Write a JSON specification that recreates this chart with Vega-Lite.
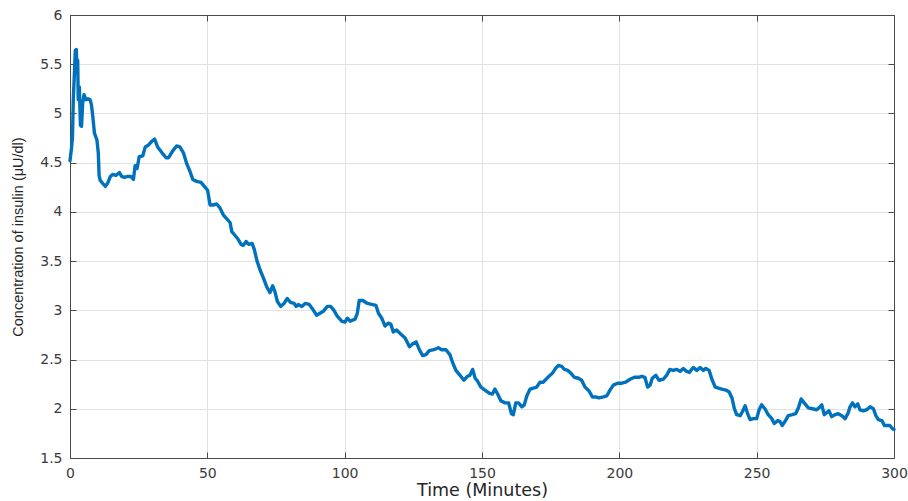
{
  "$schema": "https://vega.github.io/schema/vega-lite/v6.json",
  "width": 824,
  "height": 443,
  "autosize": {"type": "none"},
  "padding": {"left": 70, "top": 15, "right": 14, "bottom": 43},
  "background": "white",
  "config": {
    "view": {"stroke": null},
    "axis": {
      "domainColor": "#4a4a4a",
      "domainWidth": 1,
      "tickColor": "#4a4a4a",
      "tickSize": -6,
      "tickWidth": 1,
      "gridColor": "#e2e2e2",
      "gridWidth": 1,
      "labelFont": "DejaVu Sans",
      "labelFontSize": 14,
      "labelColor": "#3a3a3a",
      "labelFlush": false,
      "labelOverlap": false,
      "labelBound": false,
      "titleFontWeight": "normal",
      "titleColor": "#262626"
    }
  },
  "data": {
    "values": [
      {"time": 0, "insulin": 4.52}, {"time": 0.6, "insulin": 4.66}, {"time": 0.9, "insulin": 4.76},
      {"time": 1.2, "insulin": 5.14}, {"time": 1.7, "insulin": 5.47}, {"time": 1.94, "insulin": 5.64},
      {"time": 2.3, "insulin": 5.65}, {"time": 2.55, "insulin": 5.41}, {"time": 2.8, "insulin": 5.54},
      {"time": 3.0, "insulin": 5.14}, {"time": 3.4, "insulin": 5.27}, {"time": 3.8, "insulin": 4.88},
      {"time": 4.2, "insulin": 4.87}, {"time": 4.6, "insulin": 5.10}, {"time": 5.1, "insulin": 5.19},
      {"time": 5.8, "insulin": 5.14}, {"time": 6.55, "insulin": 5.15}, {"time": 7.3, "insulin": 5.14},
      {"time": 7.8, "insulin": 5.09}, {"time": 8.3, "insulin": 4.97}, {"time": 8.9, "insulin": 4.80},
      {"time": 9.8, "insulin": 4.73}, {"time": 10.3, "insulin": 4.60}, {"time": 10.6, "insulin": 4.37},
      {"time": 11.0, "insulin": 4.32}, {"time": 11.9, "insulin": 4.29}, {"time": 12.9, "insulin": 4.26},
      {"time": 13.7, "insulin": 4.29}, {"time": 14.7, "insulin": 4.36}, {"time": 15.5, "insulin": 4.38},
      {"time": 16.7, "insulin": 4.37}, {"time": 18.0, "insulin": 4.40}, {"time": 18.8, "insulin": 4.36},
      {"time": 19.8, "insulin": 4.35}, {"time": 21.0, "insulin": 4.36}, {"time": 22.2, "insulin": 4.36},
      {"time": 23.1, "insulin": 4.33}, {"time": 23.7, "insulin": 4.47}, {"time": 24.4, "insulin": 4.44},
      {"time": 25.2, "insulin": 4.56}, {"time": 26.5, "insulin": 4.57}, {"time": 27.4, "insulin": 4.66},
      {"time": 28.6, "insulin": 4.68}, {"time": 29.9, "insulin": 4.72}, {"time": 30.8, "insulin": 4.74},
      {"time": 31.9, "insulin": 4.66}, {"time": 33.5, "insulin": 4.60}, {"time": 35.0, "insulin": 4.55},
      {"time": 35.9, "insulin": 4.55}, {"time": 37.4, "insulin": 4.62}, {"time": 38.8, "insulin": 4.67},
      {"time": 40.0, "insulin": 4.66}, {"time": 41.3, "insulin": 4.60}, {"time": 42.5, "insulin": 4.49},
      {"time": 43.7, "insulin": 4.41}, {"time": 44.7, "insulin": 4.33}, {"time": 46.1, "insulin": 4.31},
      {"time": 47.7, "insulin": 4.30}, {"time": 48.9, "insulin": 4.26}, {"time": 50.1, "insulin": 4.22},
      {"time": 51.0, "insulin": 4.07}, {"time": 52.0, "insulin": 4.07}, {"time": 53.4, "insulin": 4.08},
      {"time": 54.6, "insulin": 4.04}, {"time": 55.8, "insulin": 3.97}, {"time": 57.4, "insulin": 3.92},
      {"time": 58.3, "insulin": 3.89}, {"time": 58.9, "insulin": 3.80}, {"time": 59.8, "insulin": 3.77},
      {"time": 61.0, "insulin": 3.73}, {"time": 62.3, "insulin": 3.67}, {"time": 63.1, "insulin": 3.66},
      {"time": 64.1, "insulin": 3.70}, {"time": 65.1, "insulin": 3.67}, {"time": 66.3, "insulin": 3.68},
      {"time": 67.1, "insulin": 3.62}, {"time": 68.0, "insulin": 3.51}, {"time": 69.2, "insulin": 3.41},
      {"time": 70.4, "insulin": 3.33}, {"time": 71.6, "insulin": 3.24}, {"time": 72.8, "insulin": 3.18},
      {"time": 73.8, "insulin": 3.25}, {"time": 74.6, "insulin": 3.19}, {"time": 75.5, "insulin": 3.09},
      {"time": 76.7, "insulin": 3.04}, {"time": 77.9, "insulin": 3.07}, {"time": 79.1, "insulin": 3.12},
      {"time": 80.3, "insulin": 3.08}, {"time": 81.6, "insulin": 3.07}, {"time": 82.3, "insulin": 3.04},
      {"time": 83.1, "insulin": 3.06}, {"time": 84.4, "insulin": 3.04}, {"time": 85.6, "insulin": 3.07},
      {"time": 87.1, "insulin": 3.06}, {"time": 88.4, "insulin": 3.01}, {"time": 89.8, "insulin": 2.95},
      {"time": 91.0, "insulin": 2.97}, {"time": 92.2, "insulin": 2.99}, {"time": 93.7, "insulin": 3.04},
      {"time": 94.9, "insulin": 3.04}, {"time": 96.1, "insulin": 3.00}, {"time": 97.3, "insulin": 2.94},
      {"time": 98.9, "insulin": 2.89}, {"time": 100.1, "insulin": 2.88}, {"time": 101.0, "insulin": 2.92},
      {"time": 102.0, "insulin": 2.89}, {"time": 103.8, "insulin": 2.91}, {"time": 104.6, "insulin": 2.97},
      {"time": 105.3, "insulin": 3.10}, {"time": 106.6, "insulin": 3.10}, {"time": 108.3, "insulin": 3.07},
      {"time": 109.8, "insulin": 3.06}, {"time": 111.4, "insulin": 3.05}, {"time": 112.3, "insulin": 2.97},
      {"time": 113.5, "insulin": 2.92}, {"time": 114.7, "insulin": 2.84}, {"time": 115.9, "insulin": 2.87},
      {"time": 116.8, "insulin": 2.86}, {"time": 117.7, "insulin": 2.78}, {"time": 118.9, "insulin": 2.80},
      {"time": 120.4, "insulin": 2.76}, {"time": 122.0, "insulin": 2.72}, {"time": 123.6, "insulin": 2.63},
      {"time": 124.8, "insulin": 2.66}, {"time": 126.0, "insulin": 2.68}, {"time": 127.2, "insulin": 2.60},
      {"time": 128.4, "insulin": 2.54}, {"time": 129.6, "insulin": 2.55}, {"time": 130.8, "insulin": 2.59},
      {"time": 132.5, "insulin": 2.60}, {"time": 134.1, "insulin": 2.62}, {"time": 135.3, "insulin": 2.60},
      {"time": 136.9, "insulin": 2.60}, {"time": 138.3, "insulin": 2.55}, {"time": 139.3, "insulin": 2.47},
      {"time": 140.5, "insulin": 2.39}, {"time": 142.0, "insulin": 2.34}, {"time": 143.4, "insulin": 2.29},
      {"time": 144.7, "insulin": 2.33}, {"time": 145.6, "insulin": 2.34}, {"time": 146.6, "insulin": 2.40},
      {"time": 147.5, "insulin": 2.31}, {"time": 148.4, "insulin": 2.28}, {"time": 149.6, "insulin": 2.22},
      {"time": 151.1, "insulin": 2.19}, {"time": 152.6, "insulin": 2.16}, {"time": 153.8, "insulin": 2.15},
      {"time": 154.7, "insulin": 2.20}, {"time": 155.7, "insulin": 2.15}, {"time": 156.9, "insulin": 2.08},
      {"time": 158.4, "insulin": 2.06}, {"time": 159.7, "insulin": 2.06}, {"time": 160.7, "insulin": 1.95},
      {"time": 161.4, "insulin": 1.94}, {"time": 162.3, "insulin": 2.06}, {"time": 163.3, "insulin": 2.06},
      {"time": 164.5, "insulin": 2.02}, {"time": 165.4, "insulin": 2.04}, {"time": 166.3, "insulin": 2.13},
      {"time": 167.5, "insulin": 2.20}, {"time": 168.7, "insulin": 2.21}, {"time": 169.9, "insulin": 2.22},
      {"time": 171.1, "insulin": 2.27}, {"time": 172.3, "insulin": 2.27}, {"time": 173.3, "insulin": 2.30},
      {"time": 174.4, "insulin": 2.33}, {"time": 175.6, "insulin": 2.36}, {"time": 176.8, "insulin": 2.41},
      {"time": 177.8, "insulin": 2.44}, {"time": 179.0, "insulin": 2.43}, {"time": 180.0, "insulin": 2.40},
      {"time": 181.2, "insulin": 2.39}, {"time": 182.4, "insulin": 2.36}, {"time": 183.6, "insulin": 2.32},
      {"time": 185.1, "insulin": 2.31}, {"time": 186.3, "insulin": 2.29}, {"time": 187.5, "insulin": 2.22},
      {"time": 189.0, "insulin": 2.18}, {"time": 190.2, "insulin": 2.12}, {"time": 191.4, "insulin": 2.12},
      {"time": 192.6, "insulin": 2.11}, {"time": 194.2, "insulin": 2.12}, {"time": 195.4, "insulin": 2.13},
      {"time": 196.6, "insulin": 2.19}, {"time": 197.8, "insulin": 2.24}, {"time": 199.4, "insulin": 2.26},
      {"time": 200.9, "insulin": 2.26}, {"time": 202.3, "insulin": 2.27}, {"time": 203.9, "insulin": 2.30},
      {"time": 205.5, "insulin": 2.32}, {"time": 207.0, "insulin": 2.32}, {"time": 208.2, "insulin": 2.33},
      {"time": 209.3, "insulin": 2.32}, {"time": 210.3, "insulin": 2.22}, {"time": 211.2, "insulin": 2.24},
      {"time": 212.0, "insulin": 2.31}, {"time": 213.3, "insulin": 2.34}, {"time": 214.4, "insulin": 2.29},
      {"time": 216.0, "insulin": 2.30}, {"time": 217.2, "insulin": 2.34}, {"time": 218.4, "insulin": 2.40},
      {"time": 219.6, "insulin": 2.39}, {"time": 220.9, "insulin": 2.40}, {"time": 222.1, "insulin": 2.38},
      {"time": 223.3, "insulin": 2.41}, {"time": 224.5, "insulin": 2.38}, {"time": 225.5, "insulin": 2.37},
      {"time": 226.9, "insulin": 2.42}, {"time": 228.2, "insulin": 2.39}, {"time": 229.4, "insulin": 2.42},
      {"time": 230.6, "insulin": 2.39}, {"time": 231.5, "insulin": 2.41}, {"time": 232.7, "insulin": 2.39},
      {"time": 233.7, "insulin": 2.30}, {"time": 234.9, "insulin": 2.22}, {"time": 236.1, "insulin": 2.21},
      {"time": 237.3, "insulin": 2.20}, {"time": 238.8, "insulin": 2.19}, {"time": 240.0, "insulin": 2.17},
      {"time": 241.0, "insulin": 2.11}, {"time": 241.9, "insulin": 2.00}, {"time": 242.7, "insulin": 1.94},
      {"time": 244.0, "insulin": 1.93}, {"time": 244.8, "insulin": 1.97}, {"time": 245.8, "insulin": 2.03},
      {"time": 246.7, "insulin": 1.95}, {"time": 247.6, "insulin": 1.89}, {"time": 248.8, "insulin": 1.90},
      {"time": 250.0, "insulin": 1.90}, {"time": 250.9, "insulin": 1.99}, {"time": 251.8, "insulin": 2.04},
      {"time": 253.0, "insulin": 2.00}, {"time": 254.2, "insulin": 1.94}, {"time": 255.5, "insulin": 1.90},
      {"time": 256.4, "insulin": 1.85}, {"time": 257.7, "insulin": 1.88}, {"time": 258.5, "insulin": 1.87},
      {"time": 259.3, "insulin": 1.83}, {"time": 260.3, "insulin": 1.87}, {"time": 261.5, "insulin": 1.93},
      {"time": 263.0, "insulin": 1.94}, {"time": 264.2, "insulin": 1.95}, {"time": 265.2, "insulin": 2.01},
      {"time": 266.2, "insulin": 2.10}, {"time": 267.3, "insulin": 2.06}, {"time": 268.8, "insulin": 2.01},
      {"time": 270.3, "insulin": 2.00}, {"time": 271.9, "insulin": 1.99}, {"time": 272.7, "insulin": 2.01},
      {"time": 273.7, "insulin": 2.04}, {"time": 274.6, "insulin": 1.94}, {"time": 275.5, "insulin": 1.96},
      {"time": 276.3, "insulin": 1.98}, {"time": 277.3, "insulin": 1.92}, {"time": 278.5, "insulin": 1.94},
      {"time": 279.7, "insulin": 1.95}, {"time": 281.0, "insulin": 1.93}, {"time": 282.2, "insulin": 1.90},
      {"time": 283.2, "insulin": 1.95}, {"time": 284.0, "insulin": 2.02}, {"time": 284.9, "insulin": 2.06},
      {"time": 285.8, "insulin": 2.02}, {"time": 286.8, "insulin": 2.05}, {"time": 287.6, "insulin": 1.99},
      {"time": 288.8, "insulin": 1.98}, {"time": 290.1, "insulin": 1.99}, {"time": 291.3, "insulin": 2.02},
      {"time": 292.5, "insulin": 2.00}, {"time": 293.4, "insulin": 1.93}, {"time": 294.3, "insulin": 1.89},
      {"time": 295.6, "insulin": 1.88}, {"time": 296.5, "insulin": 1.83}, {"time": 297.7, "insulin": 1.83},
      {"time": 298.5, "insulin": 1.83}, {"time": 299.4, "insulin": 1.80}, {"time": 300, "insulin": 1.79}
    ]
  },
  "layer": [
    {
      "mark": {"type": "line", "color": "#0072BD", "strokeWidth": 3.4, "strokeJoin": "round", "strokeCap": "round"},
      "encoding": {
        "x": {
          "field": "time", "type": "quantitative",
          "scale": {"domain": [0, 300], "nice": false, "zero": false},
          "axis": {
            "orient": "bottom",
            "values": [0, 50, 100, 150, 200, 250, 300],
            "labelPadding": 14,
            "title": "Time (Minutes)",
            "titleFont": "DejaVu Sans",
            "titleFontSize": 17.5,
            "titleBaseline": "middle",
            "titleY": 32
          }
        },
        "y": {
          "field": "insulin", "type": "quantitative",
          "scale": {"domain": [1.5, 6], "nice": false, "zero": false},
          "axis": {
            "orient": "left",
            "values": [1.5, 2, 2.5, 3, 3.5, 4, 4.5, 5, 5.5, 6],
            "format": ".2~f",
            "labelPadding": 14,
            "title": "Concentration of insulin (μU/dl)",
            "titleFont": "Liberation Sans",
            "titleFontSize": 14.5,
            "titleAngle": -90,
            "titleAlign": "center",
            "titleBaseline": "middle",
            "titleX": -52,
            "titleY": 221.5
          }
        }
      }
    },
    {
      "mark": {"type": "line", "opacity": 0},
      "encoding": {
        "x": {
          "field": "time", "type": "quantitative",
          "scale": {"domain": [0, 300], "nice": false, "zero": false},
          "axis": {"orient": "top", "values": [0, 50, 100, 150, 200, 250, 300], "labels": false, "grid": false, "title": null}
        },
        "y": {
          "field": "insulin", "type": "quantitative",
          "scale": {"domain": [1.5, 6], "nice": false, "zero": false},
          "axis": {"orient": "right", "values": [1.5, 2, 2.5, 3, 3.5, 4, 4.5, 5, 5.5, 6], "labels": false, "grid": false, "title": null}
        }
      }
    }
  ],
  "resolve": {"scale": {"x": "independent", "y": "independent"}}
}
